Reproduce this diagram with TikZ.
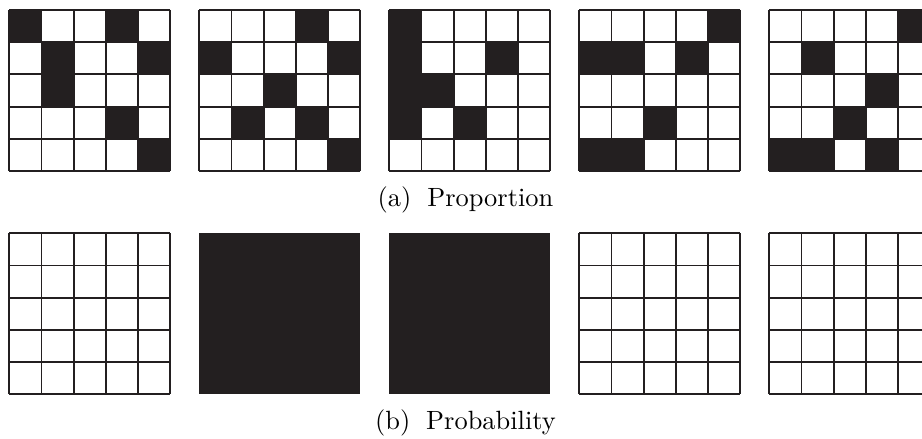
\documentclass[tikz,border=0pt]{standalone}
\definecolor{ink}{RGB}{35,31,32}
\tikzset{
  gridline/.style={draw=ink, line width=0.7pt},
  blackcell/.style={fill=ink},
  caption/.style={anchor=base, inner sep=0pt, text=black}
}
\newcommand\cs{32.2}
% #1 x, #2 y, #3 filled cells col/row
\newcommand\patgrid[3]{%
  \foreach \c/\r in {#3} {\fill[blackcell] ({#1+(\c-1)*\cs},{#2+(\r-1)*\cs}) rectangle ++(\cs,\cs);}
  \foreach \i in {0,...,5} {
    \draw[gridline] ({#1+\i*\cs},#2) -- ++(0,5*\cs);
    \draw[gridline] (#1,{#2+\i*\cs}) -- ++(5*\cs,0);
  }}
\newcommand\emptygrid[2]{%
  \foreach \i in {0,...,5} {
    \draw[gridline] ({#1+\i*\cs},#2) -- ++(0,5*\cs);
    \draw[gridline] (#1,{#2+\i*\cs}) -- ++(5*\cs,0);
  }}
\newcommand\solidgrid[2]{%
  \fill[blackcell] (#1,#2) rectangle ++(5*\cs,5*\cs);}
\begin{document}
\begin{tikzpicture}[x=0.3788pt, y=-0.3788pt]
  \clip (0,0) rectangle (922,439);
  \fill[white] (0,0) rectangle (922,439);
  % (a) Proportion
  \patgrid{9.3}{10}{1/1,4/1,2/2,5/2,2/3,4/4,5/5}
  \patgrid{199.3}{10}{4/1,1/2,5/2,3/3,2/4,4/4,5/5}
  \patgrid{389.3}{10}{1/1,1/2,4/2,1/3,2/3,1/4,3/4}
  \patgrid{579.3}{10}{5/1,1/2,2/2,4/2,3/4,1/5,2/5}
  \patgrid{769.3}{10}{5/1,2/2,4/3,3/4,1/5,2/5,4/5}
  \node[caption] (capa) at (465.5,207) {(a)\hspace{6pt}Proportion};
  % (b) Probability
  \emptygrid{9.3}{233.3}
  \solidgrid{199.3}{233.3}
  \solidgrid{389.3}{233.3}
  \emptygrid{579.3}{233.3}
  \emptygrid{769.3}{233.3}
  \node[caption] (capb) at (465.5,430) {(b)\hspace{6pt}Probability};
\end{tikzpicture}
\end{document}
